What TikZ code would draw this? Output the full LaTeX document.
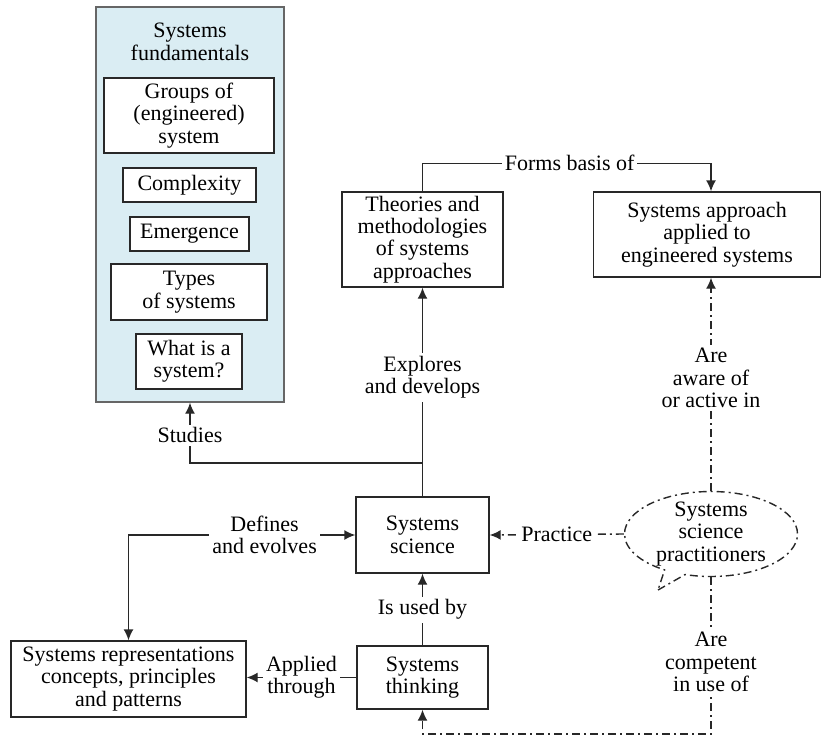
\documentclass[tikz,border=0pt]{standalone}
\usepackage{fontspec}
\setmainfont{Liberation Serif}
\usetikzlibrary{arrows.meta,shapes.callouts}
\definecolor{fundblue}{RGB}{218,237,243}
\definecolor{linegray}{RGB}{40,40,40}

\begin{document}
\begin{tikzpicture}[x=0.5pt,y=-0.5pt,
    font=\fontsize{11}{11.2}\selectfont,
    box/.style={draw=linegray,fill=white,align=center,inner sep=0pt,line width=0.7pt},
    lbl/.style={fill=white,align=center,inner sep=1.5pt},
    arr/.style={draw=linegray,line width=0.7pt,-{Latex[length=5.5pt,width=5pt]}},
    dd/.style={dash pattern=on 4pt off 2pt on 1pt off 2pt}]
  \useasboundingbox (0,0) rectangle (822,738);
  % the blue column with its topics
  \node[box,fill=fundblue,draw=gray!80!black,minimum width=94pt,minimum height=197.5pt] (fund) at (190,204.5) {};
  \node[align=center] (fundtitle) at (190,42) {Systems\\fundamentals};
  \node[box,minimum width=85pt,minimum height=37.5pt] (groups) at (189,115.5) {Groups of\\(engineered)\\system};
  \node[box,minimum width=66.5pt,minimum height=17pt] (complex) at (189.5,185) {Complexity};
  \node[box,minimum width=59.5pt,minimum height=17pt] (emerge) at (189.5,234) {Emergence};
  \node[box,minimum width=78pt,minimum height=28pt] (types) at (189,292) {Types\\of systems};
  \node[box,minimum width=53pt,minimum height=27.5pt] (whatis) at (189,361.5) {What is a\\system?};
  % main boxes
  \node[box,minimum width=80.5pt,minimum height=47.5pt] (theories) at (422.5,239.5) {Theories and\\methodologies\\of systems\\approaches};
  \node[box,minimum width=113.5pt,minimum height=42.5pt] (approach) at (707,234.5) {Systems approach\\applied to\\engineered systems};
  \node[box,minimum width=66.5pt,minimum height=38pt] (science) at (422.5,535) {Systems\\science};
  \node[box,minimum width=65.5pt,minimum height=31.5pt] (thinking) at (422.5,677.5) {Systems\\thinking};
  \node[box,minimum width=117.5pt,minimum height=38pt] (repr) at (128.5,679) {Systems representations\\concepts, principles\\and patterns};
  \node[draw=linegray,line width=0.7pt,dd,ellipse callout,callout absolute pointer={(658,590)},
    minimum width=86.5pt,minimum height=42.5pt,inner xsep=0pt,inner ysep=-4pt,align=center] (pract) at (711,534) {Systems\\science\\practitioners};
  % solid connectors
  \coordinate (split) at (422.5,463);
  \draw[arr] (science.north) -- node[lbl,pos=0.57]{Explores\\and develops} (theories.south);
  \draw[arr] (split) -| node[lbl,pos=0.73]{Studies} (fund.south);
  \draw[arr] (theories.north) -- ++(0,-28) -| node[lbl,pos=0.255]{Forms basis of} (approach.north -| pract.center);
  \draw[arr] (thinking.north) -- node[lbl]{Is used by} (science.south);
  \draw[arr] (thinking.west) -- node[lbl]{Applied\\through} (thinking.west -| repr.east);
  \draw[arr,{Latex[length=5.5pt,width=5pt]}-{Latex[length=5.5pt,width=5pt]}] (repr.north) |- node[lbl,pos=0.8]{Defines\\and evolves} (science.west);
  % dash-dotted connectors from the practitioners
  \coordinate (bottom) at (711,734);
  \draw[arr,dd] (pract.north) -- node[lbl,pos=0.53]{Are\\aware of\\or active in} (approach.south -| pract.center);
  \draw[arr,dd] (pract.west) -- node[lbl]{Practice} (science.east);
  \draw[arr,dd] (pract.south) -- node[lbl,pos=0.54]{Are\\competent\\in use of} (bottom) -| (thinking.south);
\end{tikzpicture}
\end{document}
